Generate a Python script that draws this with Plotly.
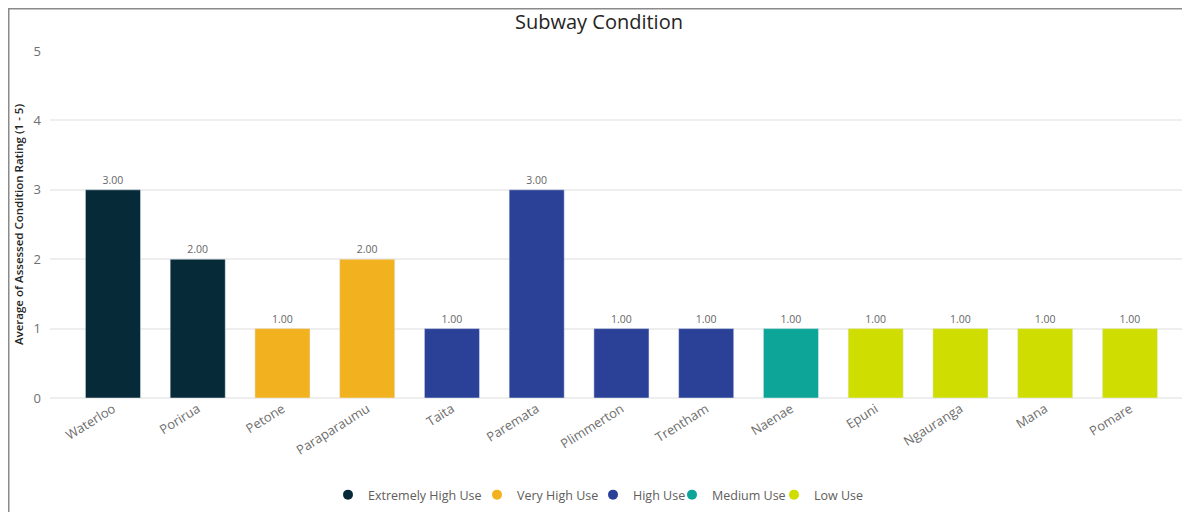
import plotly.graph_objects as go

categories = ["Waterloo", "Porirua", "Petone", "Paraparaumu", "Taita", "Paremata",
              "Plimmerton", "Trentham", "Naenae", "Epuni", "Ngauranga", "Mana", "Pomare"]
ratings = [3, 2, 1, 2, 1, 3, 1, 1, 1, 1, 1, 1, 1]
use_levels = ["Extremely High Use", "Extremely High Use", "Very High Use", "Very High Use",
              "High Use", "High Use", "High Use", "High Use", "Medium Use",
              "Low Use", "Low Use", "Low Use", "Low Use"]
level_order = ["Extremely High Use", "Very High Use", "High Use", "Medium Use", "Low Use"]
level_colors = {"Extremely High Use": "#072A38", "Very High Use": "#F2B11F",
                "High Use": "#2B4197", "Medium Use": "#0DA597", "Low Use": "#D0DD00"}
y_ticks = [0, 1, 2, 3, 4, 5]

FONT = "Open Sans, Noto Sans, sans-serif"
W, H = 1182, 504
L, R, T, B = 42, 5, 43, 114
PW, PH = W - L - R, H - T - B

# legend item left edges (px within figure), one small legend per level
legend_left_px = [320, 469, 585, 664, 766]

fig = go.Figure()
legend_layout = {}
for i, lvl in enumerate(level_order):
    xs = [c for c, l in zip(categories, use_levels) if l == lvl]
    ys = [r for r, l in zip(ratings, use_levels) if l == lvl]
    fig.add_trace(go.Bar(
        x=xs, y=ys, name=lvl, marker_color=level_colors[lvl], width=0.65,
        text=[f"{v:.2f}" for v in ys], textposition="outside",
        textfont=dict(size=10.5, color="#666666", family=FONT),
        cliponaxis=False, showlegend=False))
    lname = "legend" if i == 0 else f"legend{i + 1}"
    fig.add_trace(go.Scatter(
        x=[None], y=[None], mode="markers", name=lvl, legend=lname,
        marker=dict(symbol="circle", size=10, color=level_colors[lvl])))
    legend_layout[lname] = dict(
        orientation="h", x=(legend_left_px[i] - L) / PW, xanchor="left",
        y=-97 / PH, yanchor="middle", bgcolor="rgba(0,0,0,0)",
        font=dict(size=12.5, color="#605E5C", family=FONT), itemwidth=30)

fig.update_layout(
    width=W, height=H,
    paper_bgcolor="white", plot_bgcolor="white",
    barmode="overlay",
    margin=dict(l=L, r=R, t=T, b=B, autoexpand=False),
    title=dict(text="Subway Condition", x=0.5, xanchor="center",
               y=1 - 14 / H, yanchor="middle",
               font=dict(size=20, color="#252423", family=FONT)),
    font=dict(family=FONT),
    xaxis=dict(type="category", categoryorder="array", categoryarray=categories,
               range=[-0.743, 12.65], tickangle=-32, showgrid=False, showline=False,
               tickfont=dict(size=13, color="#6E6E6E", family=FONT), ticks=""),
    yaxis=dict(range=[0, 5], tickvals=y_ticks, showgrid=True, gridcolor="#EEEEEE",
               gridwidth=1.5, zeroline=True, zerolinecolor="#EEEEEE", zerolinewidth=1.5,
               showline=False,
               tickfont=dict(size=13, color="#6E6E6E", family=FONT), ticks="",
               ticklabelstandoff=8,
               title=dict(text="Average of Assessed Condition Rating (1 - 5)",
                          font=dict(size=11.5, color="#252423", family=FONT, weight=600),
                          standoff=7)),
    shapes=[dict(type="rect", xref="paper", yref="paper",
                 x0=(0.75 - L) / PW, x1=1.2, y0=-0.6, y1=(PH + T - 0.75) / PH,
                 line=dict(color="#8A8A8A", width=1.5), fillcolor="rgba(0,0,0,0)",
                 layer="below")],
    **legend_layout,
)

fig.write_html("out.html")
